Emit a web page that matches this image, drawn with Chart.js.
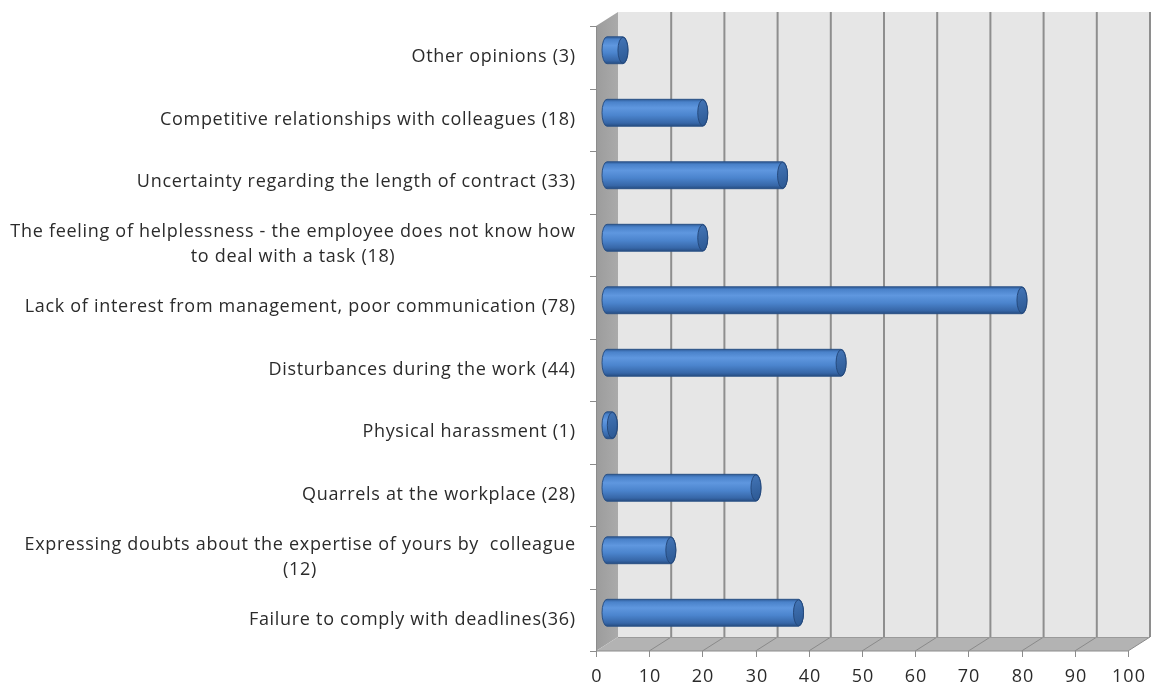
<!DOCTYPE html>
<html>
<head>
<meta charset="utf-8">
<script src="https://cdn.jsdelivr.net/npm/chart.js@4.4.1/dist/chart.umd.min.js"></script>
<style>
  html, body { margin: 0; padding: 0; background: #ffffff; }
  #wrap { width: 1162px; height: 687px; }
</style>
</head>
<body>
<div id="wrap"><canvas id="c" width="1162" height="687"></canvas></div>
<script>
// Causes of workplace stress, number of answers per item
const categories = [
  ['Other opinions (3)'],
  ['Competitive relationships with colleagues (18)'],
  ['Uncertainty regarding the length of contract (33)'],
  ['The feeling of helplessness - the employee does not know how', 'to deal with a task (18)'],
  ['Lack of interest from management, poor communication (78)'],
  ['Disturbances during the work (44)'],
  ['Physical harassment (1)'],
  ['Quarrels at the workplace (28)'],
  ['Expressing doubts about the expertise of yours by  colleague', '(12)'],
  ['Failure to comply with deadlines(36)']
];
const answers = [3, 18, 33, 18, 78, 44, 1, 28, 12, 36];
const xTickValues = [0, 10, 20, 30, 40, 50, 60, 70, 80, 90, 100];

const LABEL_FONT = '18px "Open Sans", "Liberation Sans", sans-serif';
const TICK_FONT = '18px "Open Sans", "Liberation Sans", sans-serif';
const TEXT = '#2b2b2b';
const DX = 11;   // half of the depth shift, horizontal
const DY = 7;    // half of the depth shift, vertical

// Box drawn around the plot: side wall, back wall, floor and grid
const frame3d = {
  id: 'frame3d',
  beforeDatasetsDraw(chart) {
    const { ctx, chartArea: a, scales: { x: xs } } = chart;
    const x0 = xs.getPixelForValue(0);
    const x1 = xs.getPixelForValue(100);
    ctx.save();
    // back wall
    ctx.fillStyle = '#e6e6e6';
    ctx.fillRect(x0 + DX, a.top - DY, x1 - x0, a.bottom - a.top);
    // side wall
    const sg = ctx.createLinearGradient(x0 - DX, 0, x0 + DX, 0);
    sg.addColorStop(0, '#9c9c9c');
    sg.addColorStop(1, '#aaaaaa');
    ctx.fillStyle = sg;
    ctx.beginPath();
    ctx.moveTo(x0 - DX, a.top + DY);
    ctx.lineTo(x0 + DX, a.top - DY);
    ctx.lineTo(x0 + DX, a.bottom - DY);
    ctx.lineTo(x0 - DX, a.bottom + DY);
    ctx.closePath();
    ctx.fill();
    // floor
    ctx.fillStyle = '#b3b3b3';
    ctx.beginPath();
    ctx.moveTo(x0 - DX, a.bottom + DY);
    ctx.lineTo(x0 + DX, a.bottom - DY);
    ctx.lineTo(x1 + DX, a.bottom - DY);
    ctx.lineTo(x1 - DX, a.bottom + DY);
    ctx.closePath();
    ctx.fill();
    // grid lines on back wall and floor
    xTickValues.forEach(v => {
      if (v === 0) return;
      const px = xs.getPixelForValue(v);
      ctx.strokeStyle = '#8e8e8e';
      ctx.lineWidth = 2;
      ctx.beginPath();
      ctx.moveTo(px + DX, a.top - DY);
      ctx.lineTo(px + DX, a.bottom - DY);
      ctx.stroke();
      ctx.strokeStyle = '#8a8a8a';
      ctx.lineWidth = 1;
      ctx.beginPath();
      ctx.moveTo(px + DX, a.bottom - DY);
      ctx.lineTo(px - DX, a.bottom + DY);
      ctx.stroke();
    });
    // floor back edge
    ctx.strokeStyle = '#9a9a9a';
    ctx.lineWidth = 1;
    ctx.beginPath();
    ctx.moveTo(x0 + DX, a.bottom - DY + 0.5);
    ctx.lineTo(x1 + DX, a.bottom - DY + 0.5);
    ctx.stroke();
    ctx.restore();
  },
  afterDatasetsDraw(chart) {
    const { ctx, chartArea: a, scales: { x: xs, y: ys } } = chart;
    const x0 = xs.getPixelForValue(0);
    const x1 = xs.getPixelForValue(100);
    ctx.save();
    // front axis lines
    ctx.strokeStyle = '#8c8c8c';
    ctx.lineWidth = 1;
    ctx.beginPath();
    ctx.moveTo(x0 - DX + 0.5, a.top + DY);
    ctx.lineTo(x0 - DX + 0.5, a.bottom + DY);
    ctx.lineTo(x1 - DX, a.bottom + DY);
    ctx.stroke();
    // category tick marks
    const step = (a.bottom - a.top) / categories.length;
    for (let i = 0; i <= categories.length; i++) {
      const y = Math.round(a.top + DY + i * step) + 0.5;
      ctx.beginPath();
      ctx.moveTo(x0 - DX - 6, y);
      ctx.lineTo(x0 - DX, y);
      ctx.stroke();
    }
    // value tick marks and labels
    ctx.fillStyle = TEXT;
    ctx.textBaseline = 'middle';
    ctx.textAlign = 'left';
    ctx.font = TICK_FONT;
    ctx.letterSpacing = '1px';
    xTickValues.forEach(v => {
      const px = Math.round(xs.getPixelForValue(v) - DX) + 0.5;
      ctx.beginPath();
      ctx.moveTo(px, a.bottom + DY);
      ctx.lineTo(px, a.bottom + DY + 6);
      ctx.stroke();
      const t = String(v);
      const w = ctx.measureText(t).width - 1;
      ctx.fillText(t, px - w / 2, a.bottom + DY + 26);
    });
    // category labels: block right-aligned, lines centred inside it
    ctx.font = LABEL_FONT;
    ctx.letterSpacing = '0.7px';
    const right = x0 - DX - 21;
    const lh = 25;
    categories.forEach((lines, i) => {
      const cy = ys.getPixelForValue(i) + DY;
      const widths = lines.map(t => ctx.measureText(t).width - 0.7);
      const w = Math.max(...widths);
      const cx = right - w / 2;
      const y0 = cy - (lines.length - 1) * lh / 2;
      lines.forEach((t, k) => ctx.fillText(t, cx - widths[k] / 2, y0 + k * lh));
    });
    ctx.restore();
  }
};

// Bars drawn as horizontal cylinders from the bar elements' geometry
const cylinders = {
  id: 'cylinders',
  afterDatasetsDraw(chart) {
    const { ctx } = chart;
    const meta = chart.getDatasetMeta(0);
    ctx.save();
    meta.data.forEach(el => {
      const { x, y, base, height } = el.getProps(['x', 'y', 'base', 'height'], true);
      const r = height / 2;
      const ex = 5;
      const g = ctx.createLinearGradient(0, y - r, 0, y + r);
      g.addColorStop(0, '#2f5c98');
      g.addColorStop(0.1, '#4a82ca');
      g.addColorStop(0.32, '#5f97df');
      g.addColorStop(0.6, '#4b84cd');
      g.addColorStop(0.88, '#3767a8');
      g.addColorStop(1, '#264d82');
      ctx.beginPath();
      ctx.ellipse(base, y, ex, r, 0, Math.PI / 2, Math.PI * 1.5);
      ctx.lineTo(x, y - r);
      ctx.ellipse(x, y, ex, r, 0, -Math.PI / 2, Math.PI / 2);
      ctx.lineTo(base, y + r);
      ctx.closePath();
      ctx.fillStyle = g;
      ctx.fill();
      ctx.strokeStyle = '#2a5186';
      ctx.lineWidth = 1;
      ctx.stroke();
      // end face
      const cg = ctx.createLinearGradient(x - ex, y - r, x + ex, y + r);
      cg.addColorStop(0, '#4476b8');
      cg.addColorStop(1, '#2b5791');
      ctx.beginPath();
      ctx.ellipse(x, y, ex, r - 0.5, 0, 0, Math.PI * 2);
      ctx.fillStyle = cg;
      ctx.fill();
      ctx.strokeStyle = '#25497c';
      ctx.stroke();
    });
    ctx.restore();
  }
};

new Chart(document.getElementById('c'), {
  type: 'bar',
  data: {
    labels: categories,
    datasets: [{
      data: answers,
      backgroundColor: 'rgba(0,0,0,0)',
      borderWidth: 0,
      barPercentage: 0.43,
      categoryPercentage: 1
    }]
  },
  options: {
    indexAxis: 'y',
    responsive: false,
    devicePixelRatio: 1,
    animation: false,
    layout: { padding: { left: 607, right: 23, top: 19, bottom: 43 } },
    scales: {
      x: { type: 'linear', min: 0, max: 100, display: false },
      y: { type: 'category', display: false }
    },
    plugins: { legend: { display: false }, tooltip: { enabled: false } }
  },
  plugins: [frame3d, cylinders]
});
</script>
</body>
</html>
